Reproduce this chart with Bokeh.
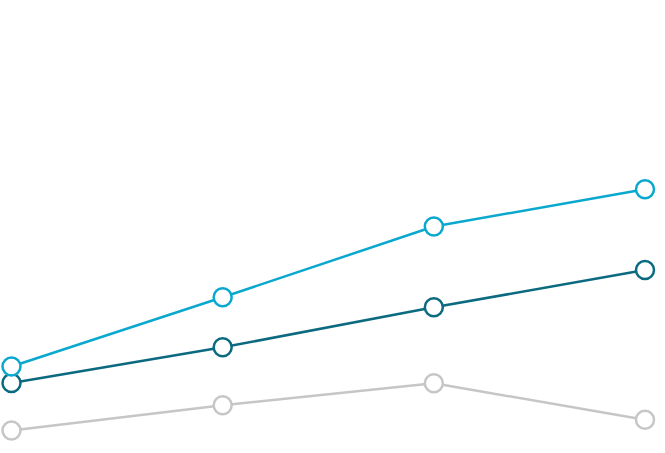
from bokeh.plotting import figure
from bokeh.models import Range1d
from bokeh.embed import file_html
from bokeh.resources import INLINE

periods = [0, 1, 2, 3]
series_light = [21.0, 38.3, 56.0, 65.3]
series_dark = [16.9, 25.8, 35.8, 45.1]
series_gray = [5.0, 11.3, 16.8, 7.7]

colors = {"light": "#0aa8cf", "dark": "#0b6a80", "gray": "#c6c6c6"}

p = figure(width=665, height=453, output_backend="svg", toolbar_location=None,
           x_range=Range1d(-0.0521, 3.0971), y_range=Range1d(-0.75, 112.5),
           min_border=0, min_border_left=0, min_border_right=0,
           min_border_top=0, min_border_bottom=0)
p.axis.visible = False
p.grid.visible = False
p.outline_line_color = None
p.background_fill_color = "white"
p.border_fill_color = "white"

for key, ys in [("gray", series_gray), ("dark", series_dark), ("light", series_light)]:
    c = colors[key]
    p.line(periods, ys, line_color=c, line_width=2.5)
    p.scatter(periods, ys, size=18, marker="circle", fill_color="white",
              line_color=c, line_width=2.5)

open("out.html", "w").write(file_html(p, INLINE))
